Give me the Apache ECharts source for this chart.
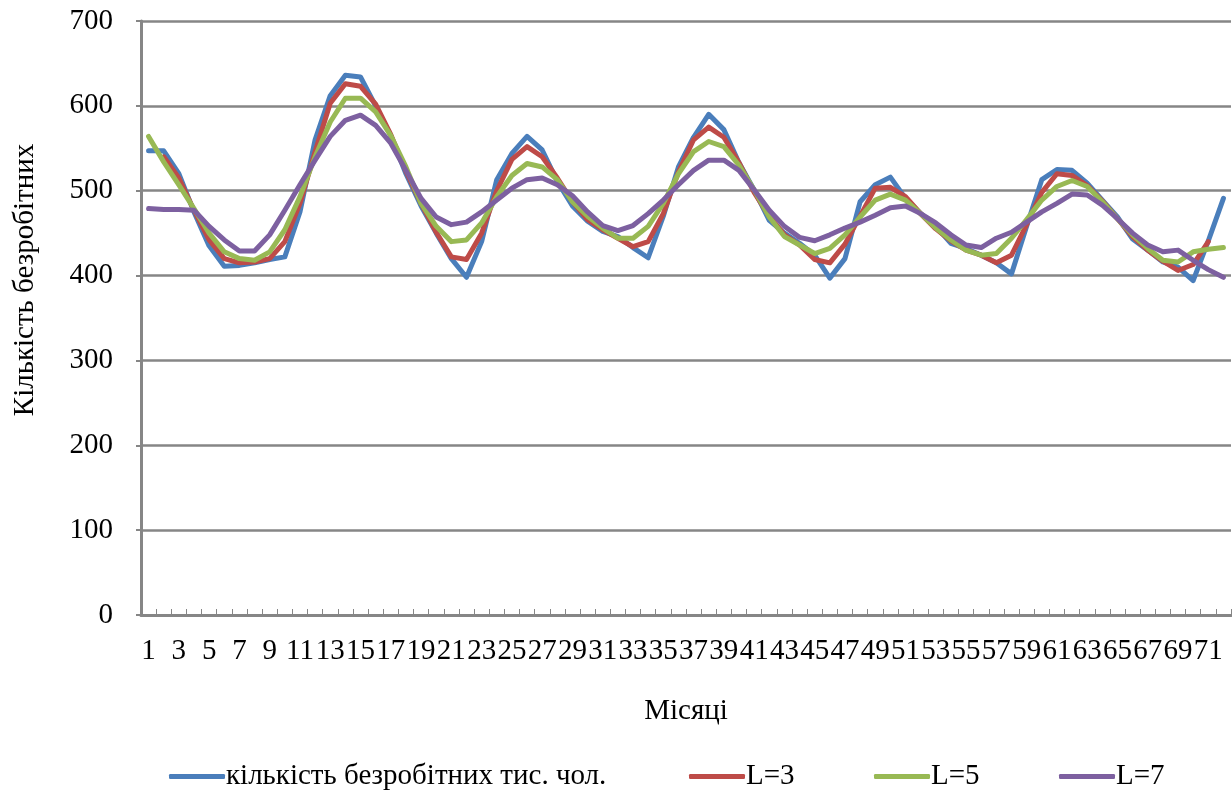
<!DOCTYPE html>
<html>
<head>
<meta charset="utf-8">
<script src="https://cdn.jsdelivr.net/npm/echarts@6/dist/echarts.min.js"></script>
<style>
html,body{margin:0;padding:0;background:#fff;}
#chart{width:1232px;height:791px;}
</style>
</head>
<body>
<div id="chart"></div>
<script>
const months = Array.from({length: 72}, (_, i) => String(i + 1));

const unemployed = [547, 547, 520, 475, 435, 411, 412, 415, 419, 422, 475, 560, 612, 636, 634, 600, 565, 520, 482, 450, 420, 398, 440, 513, 544, 564, 548, 511, 482, 464, 452, 446, 433, 421, 470, 528, 563, 590, 572, 533, 501, 465, 450, 438, 424, 397, 420, 487, 507, 516, 491, 473, 458, 438, 432, 424, 415, 402, 458, 513, 525, 524, 509, 489, 469, 443, 430, 416, 410, 394, 441, 491];

const l3 = [null, 540, 515, 477, 442, 420, 415, 416, 420, 440, 485, 546, 603, 626, 623, 602, 566, 523, 485, 451, 422, 419, 450, 500, 537, 552, 540, 515, 487, 466, 454, 444, 434, 440, 473, 522, 560, 575, 563, 533, 498, 470, 448, 436, 419, 415, 437, 470, 503, 504, 493, 473, 455, 441, 430, 424, 415, 424, 460, 498, 520, 518, 506, 488, 467, 446, 430, 417, 406, 413, 440, null];

const l5 = [564, 534, 507, 479, 450, 428, 420, 418, 428, 454, 493, 540, 581, 609, 609, 593, 565, 528, 485, 458, 440, 442, 462, 493, 518, 532, 528, 513, 487, 470, 456, 444, 444, 458, 485, 520, 546, 558, 552, 530, 501, 469, 446, 436, 426, 432, 448, 469, 489, 496, 489, 473, 456, 442, 430, 424, 426, 444, 466, 489, 505, 512, 505, 487, 467, 448, 432, 418, 416, 428, 431, 433];

const l7 = [479, 478, 478, 477, 458, 442, 429, 429, 448, 477, 507, 536, 564, 583, 589, 577, 556, 524, 491, 469, 460, 463, 475, 489, 503, 513, 515, 507, 494, 475, 459, 453, 459, 473, 489, 507, 524, 536, 536, 524, 501, 477, 458, 445, 441, 448, 456, 463, 471, 480, 482, 473, 462, 448, 436, 433, 444, 451, 463, 475, 485, 496, 495, 483, 467, 450, 436, 428, 430, 418, 407, 398];

const seriesNames = ['кількість безробітних тис. чол.', 'L=3', 'L=5', 'L=7'];
const colors = ['#4A7EBB', '#BE4B48', '#98B954', '#7D60A0'];
const legendLefts = [164, 684, 869, 1054];

const FONT = '"Liberation Serif", "DejaVu Serif", serif';
const FS = 29;
const chart = echarts.init(document.getElementById('chart'));

const mk = (name, data, color) => ({
  name, type: 'line', data, showSymbol: false, symbol: 'none',
  lineStyle: { width: 5, color, cap: 'round', join: 'round' },
  itemStyle: { color },
  animation: false
});

chart.setOption({
  animation: false,
  textStyle: { fontFamily: FONT },
  grid: { left: 141, right: 1, top: 21, bottom: 176, containLabel: false },
  xAxis: {
    type: 'category',
    data: months,
    boundaryGap: true,
    name: 'Місяці',
    nameLocation: 'middle',
    nameGap: 82,
    nameTextStyle: { fontFamily: FONT, fontSize: FS, color: '#000' },
    axisLine: { lineStyle: { color: '#868686', width: 3 } },
    axisTick: { show: true, inside: true, length: 6, interval: 0, lineStyle: { color: '#868686', width: 1 } },
    axisLabel: { interval: 1, fontFamily: FONT, fontSize: FS, color: '#000', margin: 22 },
    splitLine: { show: false }
  },
  yAxis: {
    type: 'value',
    min: 0, max: 700, interval: 100,
    axisLine: { show: true, lineStyle: { color: '#868686', width: 3 } },
    axisTick: { show: true, length: 5, lineStyle: { color: '#868686', width: 2 } },
    axisLabel: { fontFamily: FONT, fontSize: FS, color: '#000', margin: 28 },
    splitLine: { show: true, lineStyle: { color: '#868686', width: 2.5 } }
  },
  legend: seriesNames.map((n, i) => ({
    left: legendLefts[i], top: 757,
    itemWidth: 56, itemHeight: 5,
    icon: 'roundRect',
    itemGap: 0,
    textStyle: { fontFamily: FONT, fontSize: FS, color: '#000', padding: [0, 0, 0, -4] },
    data: [n]
  })),
  graphic: [{
    type: 'text',
    x: 25, y: 280,
    rotation: Math.PI / 2,
    style: {
      text: 'Кількість безробітних',
      font: FS + 'px ' + FONT,
      fill: '#000',
      align: 'center',
      verticalAlign: 'middle'
    }
  }],
  series: [
    mk(seriesNames[0], unemployed, colors[0]),
    mk(seriesNames[1], l3, colors[1]),
    mk(seriesNames[2], l5, colors[2]),
    mk(seriesNames[3], l7, colors[3])
  ]
});
</script>
</body>
</html>
